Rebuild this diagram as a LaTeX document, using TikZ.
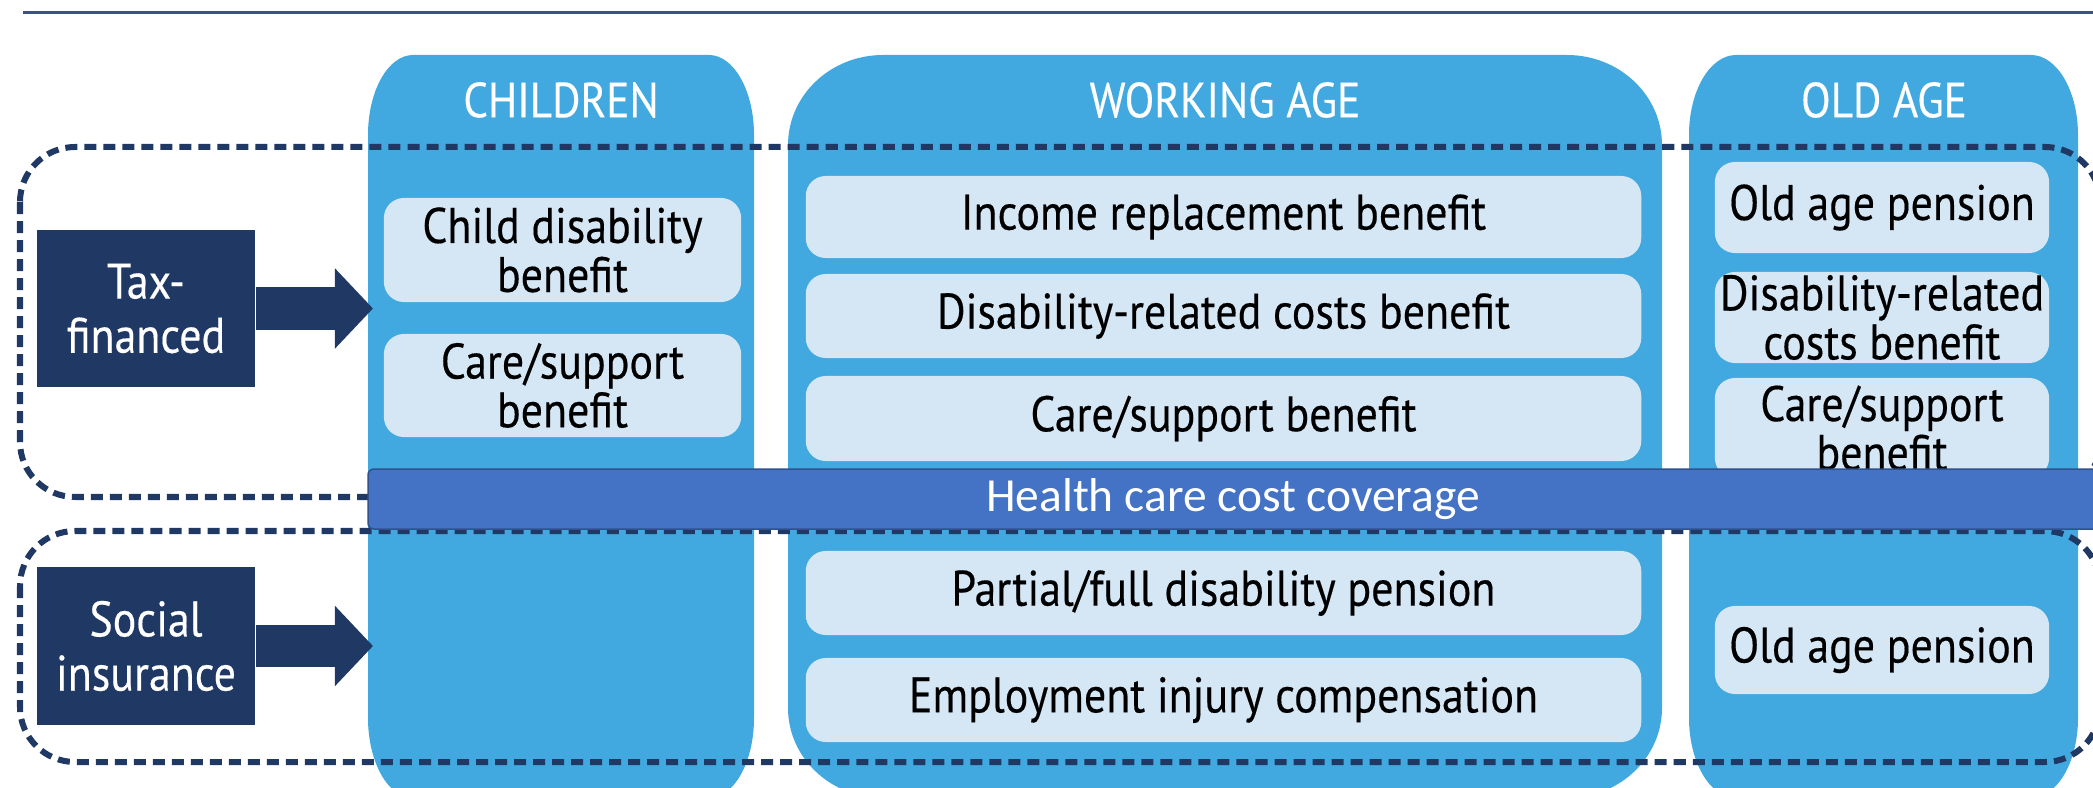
\documentclass[tikz,border=0pt]{standalone}
\usepackage{fontspec}
\setmainfont{PT Sans}[FakeStretch=0.88, FakeBold=0.3]
\newfontfamily\barfont{Carlito}
\usetikzlibrary{arrows.meta}
\definecolor{agefill}{HTML}{41A9DF}
\definecolor{boxfill}{HTML}{D5E6F5}
\definecolor{navy}{HTML}{1F3864}
\definecolor{barfill}{HTML}{4472C4}
\definecolor{barline}{HTML}{2F528F}
\definecolor{rulecol}{HTML}{3B5185}
\tikzset{
	agetitle/.style={text=white, inner sep=0pt, font=\fontsize{14}{16}\selectfont},
	benefit/.style={fill=boxfill, rounded corners=0.2cm, inner sep=0pt, align=center, font=\fontsize{14.2}{12.5}\selectfont},
	fundbox/.style={fill=navy, text=white, align=center, inner sep=0pt, minimum width=2.18cm, minimum height=1.57cm, font=\fontsize{14.2}{15.4}\selectfont},
	fundarrow/.style={draw=navy, line width=0.42cm, -{Triangle[length=0.38cm, width=0.78cm]}},
	fundgroup/.style={draw=navy, line width=0.06cm, dash pattern=on 0.12cm off 0.07cm, rounded corners=0.55cm},
	healthbar/.style={fill=barfill, draw=barline, line width=0.015cm, rounded corners=0.06cm},
	healthtext/.style={text=white, inner sep=0pt, font=\barfont\fontsize{13.5}{16}\selectfont}
}
% column: left, right, corner radii (px)
\newcommand\agecol[4]{%
	\fill[agefill] (#1,{55+#4}) arc[start angle=180, end angle=90, x radius=#3*0.01cm, y radius=#4*0.01cm]
		-- ({#2-#3},55) arc[start angle=90, end angle=0, x radius=#3*0.01cm, y radius=#4*0.01cm]
		-- (#2,{798-#4}) arc[start angle=0, end angle=-90, x radius=#3*0.01cm, y radius=#4*0.01cm]
		-- ({#1+#3},798) arc[start angle=270, end angle=180, x radius=#3*0.01cm, y radius=#4*0.01cm] -- cycle;}
\begin{document}
\begin{tikzpicture}[x=0.01cm, y=-0.01cm]
	\useasboundingbox (0,0) rectangle (2093,788);
	\clip (0,0) rectangle (2093,788);
	\draw[rulecol, line width=0.03cm] (23,13) -- (2093,13);
	\agecol{368}{754}{45}{80}
	\agecol{788}{1662}{95}{90}
	\agecol{1689}{2078}{47}{80}
	\node[agetitle] (kids) at (561,100) {CHILDREN};
	\node[agetitle] (work) at (1225,100) {WORKING AGE};
	\node[agetitle] (old) at (1884,100) {OLD AGE};
	\node[benefit, minimum width=3.57cm, minimum height=1.04cm] (kdis) at (562.5,250) {Child disability\\benefit};
	\node[benefit, minimum width=3.57cm, minimum height=1.03cm] (kcare) at (562.5,385.5) {Care/support\\benefit};
	\node[benefit, minimum width=8.35cm, minimum height=0.82cm] (winc) at (1223.5,217) {Income replacement benefit};
	\node[benefit, minimum width=8.35cm, minimum height=0.84cm] (wdis) at (1223.5,316) {Disability-related costs benefit};
	\node[benefit, minimum width=8.35cm, minimum height=0.85cm] (wcare) at (1223.5,418.5) {Care/support benefit};
	\node[benefit, minimum width=8.35cm, minimum height=0.84cm] (wpen) at (1223.5,593) {Partial/full disability pension};
	\node[benefit, minimum width=8.35cm, minimum height=0.84cm] (wemp) at (1223.5,700) {Employment injury compensation};
	\node[benefit, minimum width=3.34cm, minimum height=0.91cm] (oold) at (1882,207.5) {Old age pension};
	\node[benefit, minimum width=3.34cm, minimum height=0.91cm] (odis) at (1882,317.5) {Disability-related\\costs benefit};
	\node[benefit, minimum width=3.34cm, minimum height=1.00cm] (ocare) at (1882,428) {Care/support\\benefit};
	\node[benefit, minimum width=3.34cm, minimum height=0.88cm] (open) at (1882,650) {Old age pension};
	\draw[fundgroup] (20,147) rectangle (2100,497);
	\draw[fundgroup] (20,531) rectangle (2100,762);
	\draw[healthbar] (368,469) rectangle (2110,529);
	\node[healthtext] (health) at (1233,499) {Health care cost coverage};
	\node[fundbox] (tax) at (146,308.5) {Tax-\\financed};
	\node[fundbox] (social) at (146,646) {Social\\insurance};
	\coordinate (taxin) at (373,308.5);
	\coordinate (socialin) at (373,646);
	\draw[fundarrow] (tax.east) -- (taxin);
	\draw[fundarrow] (social.east) -- (socialin);
\end{tikzpicture}
\end{document}
